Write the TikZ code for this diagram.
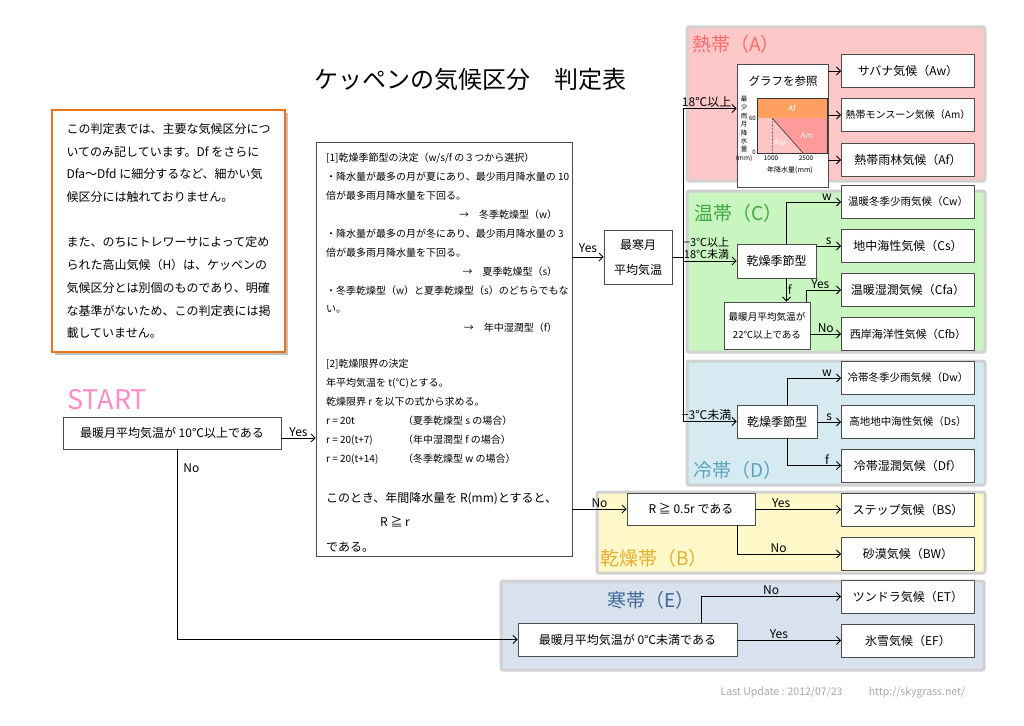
\documentclass[tikz,border=0pt]{standalone}
\usepackage{fontspec}
\setmainfont{Noto Sans CJK JP}
\usetikzlibrary{arrows.meta}
\usetikzlibrary{shadows}
\definecolor{zoneA}{HTML}{FFC8C8}
\definecolor{zoneC}{HTML}{C8F5C0}
\definecolor{zoneD}{HTML}{D6EAF2}
\definecolor{zoneB}{HTML}{FFF8C8}
\definecolor{zoneE}{HTML}{D8E2EE}
\definecolor{txtA}{HTML}{FF6B6B}
\definecolor{txtC}{HTML}{3FA83F}
\definecolor{txtD}{HTML}{5BA3BD}
\definecolor{txtB}{HTML}{E6AE2E}
\definecolor{txtE}{HTML}{3E6797}
\definecolor{noteorange}{HTML}{E8731A}
\definecolor{startpink}{HTML}{FF8CC6}
\definecolor{awpink}{HTML}{FFC4C4}
\definecolor{ampink}{HTML}{FF9A9A}
\definecolor{aforange}{HTML}{FFA060}

\begin{document}
\begin{tikzpicture}
[x=1pt,y=-1pt,
box/.style={draw=black!70,fill=white,line width=0.8pt,inner sep=2pt,
  font=\fontsize{12}{14}\selectfont},
result/.style={box,minimum width=133pt,minimum height=33pt},
zone/.style={draw=black!18,line width=3pt,rounded corners=2pt},
zonelabel/.style={anchor=west,inner sep=0pt,font=\fontsize{19}{22}\selectfont},
flow/.style={line width=0.9pt,-{Straight Barb[length=4pt,width=8pt]}},
lab/.style={font=\fontsize{12}{13}\selectfont,inner sep=1pt},
tiny/.style={inner sep=0pt,font=\fontsize{6.5}{7}\selectfont}]

\useasboundingbox (0,0) rectangle (1024,725);

% zones
\draw [zone,fill=zoneA] (687,27) rectangle (985,181);
\draw [zone,fill=zoneC] (687,191) rectangle (985,352);
\draw [zone,fill=zoneD] (687,361) rectangle (985,485);
\draw [zone,fill=zoneB] (597,492) rectangle (985,573);
\draw [zone,fill=zoneE] (501,581) rectangle (984,670);

\node (zA) [zonelabel,text=txtA] at (692,44) {熱帯（A）};
\node (zC) [zonelabel,text=txtC] at (694,213) {温帯（C）};
\node (zD) [zonelabel,text=txtD] at (693,470) {冷帯（D）};
\node (zB) [zonelabel,text=txtB] at (600,558) {乾燥帯（B）};
\node (zE) [zonelabel,text=txtE] at (607,600) {寒帯（E）};

\node (title) [font=\fontsize{24}{28}\selectfont] at (470,79)
      {ケッペンの気候区分　判定表};

\node (note) [draw=noteorange,line width=2pt,fill=white,
      minimum width=233pt,minimum height=242pt,align=left,
      font=\fontsize{12}{22.7}\selectfont,
      drop shadow={shadow xshift=3pt,shadow yshift=-3pt,opacity=0.5}]
      at (168.5,231)
      {この判定表では、主要な気候区分につ\\いてのみ記しています。Df をさらに\\
       Dfa～Dfd に細分するなど、細かい気\\候区分には触れておりません。\\[22.7pt]
       また、のちにトレワーサによって定め\\られた高山気候（H）は、ケッペンの\\
       気候区分とは別個のものであり、明確\\な基準がないため、この判定表には掲\\
       載していません。};

\node (startlbl) [anchor=west,inner sep=0pt,text=startpink,
      font=\fontsize{27}{30}\selectfont] at (67,400) {START};
\node (start) [box,minimum width=218pt,minimum height=32pt] at (172,433)
      {最暖月平均気温が 10℃以上である};

\node (rules) [box,minimum width=256pt,minimum height=414pt] at (444,349) {};
\node (rules1) [anchor=north west,align=left,inner sep=0pt,
      font=\fontsize{10}{18.9}\selectfont] at (326,153)
      {[1]乾燥季節型の決定（w/s/f の３つから選択）\\
       ・降水量が最多の月が夏にあり、最少雨月降水量の 10\\
       倍が最多雨月降水量を下回る。\\
       \makebox[231pt][r]{→　冬季乾燥型（w）}\\
       ・降水量が最多の月が冬にあり、最少雨月降水量の 3\\
       倍が最多雨月降水量を下回る。\\
       \makebox[231pt][r]{→　夏季乾燥型（s）}\\
       ・冬季乾燥型（w）と夏季乾燥型（s）のどちらでもな\\
       い。\\
       \makebox[231pt][r]{→　年中湿潤型（f）}};
\node (rules2) [anchor=north west,align=left,inner sep=0pt,
      font=\fontsize{10}{19}\selectfont] at (326,359)
      {[2]乾燥限界の決定\\
       年平均気温を t(℃)とする。\\
       乾燥限界 r を以下の式から求める。\\
       \makebox[77pt][l]{r = 20t}（夏季乾燥型 s の場合）\\
       \makebox[77pt][l]{r = 20(t+7)}（年中湿潤型 f の場合）\\
       \makebox[77pt][l]{r = 20(t+14)}（冬季乾燥型 w の場合）};
\node (rules3) [anchor=north west,align=left,inner sep=0pt,
      font=\fontsize{12}{24.5}\selectfont] at (326,492)
      {このとき、年間降水量を R(mm)とすると、\\
       \hspace*{54pt}R ≧ r\\
       である。};

\node (coldest) [box,minimum width=68pt,minimum height=54pt,align=center,
      font=\fontsize{12}{25}\selectfont] at (638,257) {最寒月\\平均気温};
\coordinate (split) at (683,257);

% tropical
\node (graph) [box,minimum width=91pt,minimum height=123pt] at (782.5,125.5) {};
\node (graphtitle) [font=\fontsize{11.5}{13}\selectfont] at (783,81) {グラフを参照};
\fill [awpink] (757,118) -- (772,118) -- (803,153) -- (757,153) -- cycle;
\fill [ampink] (772,118) -- (827,118) -- (827,153) -- (803,153) -- cycle;
\fill [aforange] (757,98) rectangle (827,118);
\draw [black!50,densely dotted] (772,118) -- (772,153);
\draw [black!80,line width=0.6pt] (772,118) -- (803,153);
\draw [black!80,line width=0.6pt] (757,98) rectangle (827,153);
\node (lAf) [tiny,text=white,font=\fontsize{8}{9}\selectfont] at (792,108) {Af};
\node (lAm) [tiny,text=white,font=\fontsize{8}{9}\selectfont] at (807,136) {Am};
\node (lAw) [tiny,text=white,font=\fontsize{8}{9}\selectfont] at (780,143) {Aw};
\node (l60) [tiny,anchor=east,font=\fontsize{6}{7}\selectfont] at (756,118) {60};
\node (l0) [tiny,anchor=east,font=\fontsize{6}{7}\selectfont] at (756,152) {0};
\node (l1000) [tiny] at (771,158) {1000};
\node (l2500) [tiny] at (806,158) {2500};
\node (lxax) [tiny,font=\fontsize{7}{8}\selectfont] at (790,170) {年降水量(mm)};
\node (lyax) [tiny,anchor=north,align=center,font=\fontsize{6.5}{8.4}\selectfont]
      at (744,96) {最\\少\\雨\\月\\降\\水\\量\\(mm)};

\node (Aw) [result] at (908,71) {サバナ気候（Aw）};
\node (Am) [result,font=\fontsize{10}{12}\selectfont] at (908,115) {熱帯モンスーン気候（Am）};
\node (Af) [result] at (908,160) {熱帯雨林気候（Af）};
\draw [flow] (graph.east |- Aw.west) -- (Aw.west);
\draw [flow] (graph.east |- Am.west) -- (Am.west);
\draw [flow] (graph.east |- Af.west) -- (Af.west);

% temperate
\node (dryC) [box,minimum width=79pt,minimum height=34pt] at (776.5,261) {乾燥季節型};
\node (warm22) [box,minimum width=86pt,minimum height=47pt,align=center,
      font=\fontsize{9.6}{18}\selectfont] at (767,325.5) {最暖月平均気温が\\22℃以上である};
\node (Cw) [result,font=\fontsize{10.5}{12}\selectfont] at (908,202) {温暖冬季少雨気候（Cw）};
\node (Cs) [result] at (908,246) {地中海性気候（Cs）};
\node (Cfa) [result] at (908,290) {温暖湿潤気候（Cfa）};
\node (Cfb) [result,font=\fontsize{11}{13}\selectfont] at (908,334) {西岸海洋性気候（Cfb）};
\coordinate (fC) at ([xshift=10pt]dryC.south);
\draw [flow] ([xshift=10pt]dryC.north) |- (Cw.west) node (lw1) [lab,pos=0.87,above] {w};
\draw [flow] (dryC.east |- Cs.west) -- (Cs.west) node (ls1) [lab,midway,above] {s};
\draw [flow] (fC) -- (fC |- warm22.north) node (lf1) [lab,midway,right] {f};
\draw [flow] ([xshift=-4pt]warm22.north east) |- (Cfa.west) node (lyes1) [lab,pos=0.7,above] {Yes};
\draw [flow] (warm22.east |- Cfb.west) -- (Cfb.west) node (lno1) [lab,midway,above] {No};

% cold
\node (dryD) [box,minimum width=80pt,minimum height=33pt] at (777,421.5) {乾燥季節型};
\node (Dw) [result,font=\fontsize{10.5}{12}\selectfont] at (908,378) {冷帯冬季少雨気候（Dw）};
\node (Ds) [result,font=\fontsize{10.5}{12}\selectfont] at (908,422) {高地地中海性気候（Ds）};
\node (Df) [result] at (908,465.5) {冷帯湿潤気候（Df）};
\draw [flow] ([xshift=10pt]dryD.north) |- (Dw.west) node (lw2) [lab,pos=0.87,above] {w};
\draw [flow] (dryD.east |- Ds.west) -- (Ds.west) node (ls2) [lab,midway,above] {s};
\draw [flow] ([xshift=10pt]dryD.south) |- (Df.west) node (lf2) [lab,pos=0.87,above] {f};

% dry
\node (rbox) [box,minimum width=128pt,minimum height=32pt] at (691,509) {R ≧ 0.5r である};
\node (BS) [result] at (908,509.5) {ステップ気候（BS）};
\node (BW) [result] at (908,554) {砂漠気候（BW）};
\draw [flow] (rbox.east |- BS.west) -- (BS.west) node (lyes3) [lab,pos=0.3,above] {Yes};
\draw [flow] ([xshift=46pt]rbox.south) |- (BW.west) node (lno3) [lab,pos=0.7,above] {No};

% polar
\node (ebox) [box,minimum width=219pt,minimum height=33pt] at (627.5,639.5)
      {最暖月平均気温が 0℃未満である};
\node (ET) [result] at (908,596.5) {ツンドラ気候（ET）};
\node (EF) [result] at (908,640.5) {氷雪気候（EF）};
\draw [flow] ([xshift=73.5pt]ebox.north) |- (ET.west) node (lno4) [lab,pos=0.75,above] {No};
\draw [flow] (ebox.east |- EF.west) -- (EF.west) node (lyes4) [lab,pos=0.4,above] {Yes};

% main flow
\draw [flow] ([yshift=-5pt]start.east) -- ([yshift=-5pt]start.east -| rules.west)
      node (lyes0) [lab,midway,above] {Yes};
\draw [flow] ([xshift=5pt]start.south) |- (ebox.west) node (lno0) [lab,pos=0.05,right=5pt] {No};
\draw [flow] (rules.east |- coldest.west) -- (coldest.west) node (lyes5) [lab,midway,above=3pt] {Yes};
\draw [flow] (rules.east |- rbox.west) -- (rbox.west) node (lno5) [lab,midway,above] {No};
\draw [line width=0.9pt] (coldest.east) -- (split);
\draw [flow] (split) |- ([yshift=17pt]graph.west) node (lt18) [lab,pos=0.72,above] {18℃以上};
\draw [flow] (split) |- (dryC.west) node (lt3) [lab,pos=0.72,above,align=left,
      font=\fontsize{11}{12.5}\selectfont] {−3℃以上\\18℃未満};
\draw [flow] (split) |- (dryD.west) node (ltm3) [lab,pos=0.72,above] {−3℃未満};

\node (footer) [text=black!35,font=\fontsize{10.5}{12}\selectfont] at (843,693)
      {Last Update : 2012/07/23\hspace{2.5em}http://skygrass.net/};
\end{tikzpicture}
\end{document}
